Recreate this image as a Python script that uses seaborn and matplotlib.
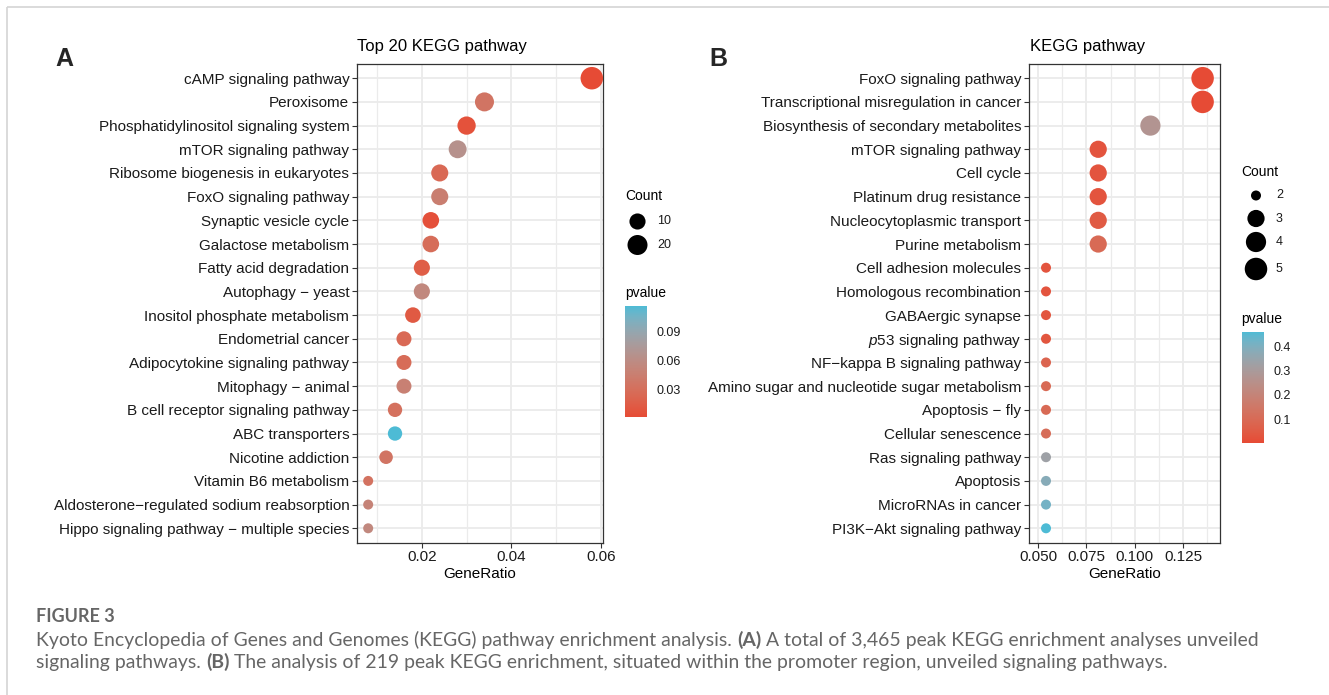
import numpy as np
import pandas as pd
import matplotlib
matplotlib.use("Agg")
import matplotlib.pyplot as plt
import seaborn as sns
from matplotlib.colors import ListedColormap, Normalize, FuncNorm
from matplotlib.cm import ScalarMappable

# ---------------- data ----------------
pathways_a = [
    "cAMP signaling pathway", "Peroxisome", "Phosphatidylinositol signaling system",
    "mTOR signaling pathway", "Ribosome biogenesis in eukaryotes", "FoxO signaling pathway",
    "Synaptic vesicle cycle", "Galactose metabolism", "Fatty acid degradation",
    "Autophagy \u2212 yeast", "Inositol phosphate metabolism", "Endometrial cancer",
    "Adipocytokine signaling pathway", "Mitophagy \u2212 animal", "B cell receptor signaling pathway",
    "ABC transporters", "Nicotine addiction", "Vitamin B6 metabolism",
    "Aldosterone\u2212regulated sodium reabsorption", "Hippo signaling pathway \u2212 multiple species",
]
gene_ratio_a = [0.058, 0.034, 0.030, 0.028, 0.024, 0.024, 0.022, 0.022, 0.020, 0.020,
                0.018, 0.016, 0.016, 0.016, 0.014, 0.014, 0.012, 0.008, 0.008, 0.008]
count_a = [29, 17, 15, 14, 12, 12, 11, 11, 10, 10, 9, 8, 8, 8, 7, 7, 6, 4, 4, 4]
pvalue_a = [0.0014, 0.035, 0.006, 0.065, 0.025, 0.045, 0.005, 0.028, 0.015, 0.055,
            0.012, 0.025, 0.027, 0.047, 0.032, 0.116, 0.035, 0.033, 0.050, 0.055]

pathways_b = [
    "FoxO signaling pathway", "Transcriptional misregulation in cancer",
    "Biosynthesis of secondary metabolites", "mTOR signaling pathway", "Cell cycle",
    "Platinum drug resistance", "Nucleocytoplasmic transport", "Purine metabolism",
    "Cell adhesion molecules", "Homologous recombination", "GABAergic synapse",
    "p53 signaling pathway", "NF\u2212kappa B signaling pathway",
    "Amino sugar and nucleotide sugar metabolism", "Apoptosis \u2212 fly", "Cellular senescence",
    "Ras signaling pathway", "Apoptosis", "MicroRNAs in cancer", "PI3K\u2212Akt signaling pathway",
]
gene_ratio_b = [0.1351, 0.1351, 0.1081, 0.0811, 0.0811, 0.0811, 0.0811, 0.0811,
                0.0541, 0.0541, 0.0541, 0.0541, 0.0541, 0.0541, 0.0541, 0.0541,
                0.0541, 0.0541, 0.0541, 0.0541]
count_b = [5, 5, 4, 3, 3, 3, 3, 3, 2, 2, 2, 2, 2, 2, 2, 2, 2, 2, 2, 2]
pvalue_b = [0.004, 0.005, 0.27, 0.03, 0.03, 0.03, 0.05, 0.10, 0.03, 0.03, 0.035, 0.035,
            0.08, 0.10, 0.10, 0.11, 0.33, 0.38, 0.415, 0.46]

title_a = "Top 20 KEGG pathway"
title_b = "KEGG pathway"
legend_counts_a = [10, 20]
legend_counts_b = [2, 3, 4, 5]
cbar_ticks_a = [0.03, 0.06, 0.09]
cbar_ticks_b = [0.1, 0.2, 0.3, 0.4]

caption_head = "FIGURE 3"
caption_line1 = [("Kyoto Encyclopedia of Genes and Genomes (KEGG) pathway enrichment analysis. ", False),
                 ("(A)", True),
                 (" A total of 3,465 peak KEGG enrichment analyses unveiled", False)]
caption_line2 = [("signaling pathways. ", False), ("(B)", True),
                 (" The analysis of 219 peak KEGG enrichment, situated within the promoter region, unveiled signaling pathways.", False)]

# ---------------- style ----------------
W, H, DPI = 1329, 695, 100
sns.set_theme(style="white")
plt.rcParams["font.family"] = ["Liberation Sans", "DejaVu Sans"]
plt.rcParams["mathtext.fontset"] = "custom"
plt.rcParams["mathtext.rm"] = "Liberation Sans"
plt.rcParams["mathtext.it"] = "Liberation Sans:italic"

TXT = "#1a1a1a"
GRID = "#EBEBEB"
BORDER = "#333333"

# Lab-interpolated gradient (like ggplot2 scale_colour_gradient)
_M = np.array([[0.4124, 0.3576, 0.1805], [0.2126, 0.7152, 0.0722], [0.0193, 0.1192, 0.9505]])
_WHITE = _M @ np.ones(3)
def _lin(c):
    c = np.asarray(c, float)
    return np.where(c <= 0.04045, c / 12.92, ((c + 0.055) / 1.055) ** 2.4)
def _gam(c):
    c = np.clip(c, 0, None)
    return np.where(c <= 0.0031308, 12.92 * c, 1.055 * np.power(c, 1 / 2.4) - 0.055)
def _f(t):
    return np.where(t > (6 / 29) ** 3, np.cbrt(t), t / (3 * (6 / 29) ** 2) + 4 / 29)
def _finv(t):
    return np.where(t > 6 / 29, t ** 3, 3 * (6 / 29) ** 2 * (t - 4 / 29))
def rgb2lab(rgb):
    fx, fy, fz = _f((_M @ _lin(rgb)) / _WHITE)
    return np.array([116 * fy - 16, 500 * (fx - fy), 200 * (fy - fz)])
def lab2rgb(lab):
    L, a, b = lab
    fy = (L + 16) / 116
    xyz = np.array([_finv(fy + a / 500), _finv(fy), _finv(fy - b / 200)]) * _WHITE
    return np.clip(_gam(np.linalg.solve(_M, xyz)), 0, 1)

low = np.array([0xE6, 0x4B, 0x35]) / 255
high = np.array([0x4D, 0xBB, 0xD5]) / 255
la, lb = rgb2lab(low), rgb2lab(high)
cmap = ListedColormap([lab2rgb(la + (lb - la) * t) for t in np.linspace(0, 1, 256)])

PX = 72 / DPI  # points per pixel
def make_size_norm(cmin, cmax, dmin=10.0, dmax=22.5):
    a = dmin * PX
    b = (dmax - dmin) * PX
    def fwd(x):
        t = np.clip((np.asarray(x, float) - cmin) / (cmax - cmin), 0, None)
        return (a + b * np.sqrt(t)) ** 2
    def inv(y):
        d = np.sqrt(np.clip(np.asarray(y, float), 0, None))
        t = np.clip((d - a) / b, 0, None) ** 2
        return cmin + t * (cmax - cmin)
    return FuncNorm((fwd, inv), vmin=cmin, vmax=cmax), (a * a, (a + b) ** 2), fwd

fig = plt.figure(figsize=(W / DPI, H / DPI), dpi=DPI)
fig.patch.set_facecolor("white")

def rect(l, t, r, b):
    return [l / W, 1 - b / H, (r - l) / W, (b - t) / H]

def panel(box, names, ratios, counts, pvals, xlim, major, minor, fmt):
    ax = fig.add_axes(box)
    df = pd.DataFrame({"Description": names, "GeneRatio": ratios,
                       "Count": counts, "pvalue": pvals})
    snorm, srange, fwd = make_size_norm(min(counts), max(counts))
    hnorm = Normalize(min(pvals), max(pvals))
    sns.scatterplot(data=df, x="GeneRatio", y="Description", hue="pvalue", palette=cmap,
                    hue_norm=hnorm, size="Count", sizes=srange, size_norm=snorm,
                    legend=False, ax=ax, linewidth=0, alpha=1, zorder=3)
    n = len(names)
    ax.set_ylim(n - 0.4, -0.6)
    ax.set_xlim(*xlim)
    ax.set_xticks(major)
    ax.set_xticklabels([fmt.format(v) for v in major])
    ax.set_xticks(minor, minor=True)
    ax.set_yticks(range(n))
    ax.grid(which="major", color=GRID, lw=1.3, zorder=0)
    ax.grid(which="minor", axis="x", color=GRID, lw=0.9, zorder=0)
    ax.set_axisbelow(True)
    for s in ax.spines.values():
        s.set_color(BORDER)
        s.set_linewidth(0.9)
    ax.tick_params(which="major", direction="out", length=3.5, width=0.8, color=BORDER,
                   labelsize=11, labelcolor=TXT, pad=2, bottom=True, left=True)
    ax.tick_params(which="minor", length=0, bottom=False)
    ax.set_ylabel("")
    ax.set_xlabel("GeneRatio", fontsize=11, color="black", labelpad=2)
    return ax, hnorm, fwd

axA, hnA, fwdA = panel(rect(357, 64, 603, 542.5), pathways_a, gene_ratio_a, count_a, pvalue_a,
                       (0.0055, 0.0605), [0.02, 0.04, 0.06], [0.01, 0.03, 0.05], "{:.2f}")
axB, hnB, fwdB = panel(rect(1029, 64, 1220, 542.5), pathways_b, gene_ratio_b, count_b, pvalue_b,
                       (0.0453, 0.1441), [0.05, 0.075, 0.10, 0.125], [0.0625, 0.0875, 0.1125, 0.1375],
                       "{:.3f}")
labs = [t.get_text() for t in axB.get_yticklabels()]
labs = [r"$\it{p53}$ signaling pathway" if l.startswith("p53") else l for l in labs]
axB.set_yticklabels(labs)

# overlay in pixel coordinates
ov = fig.add_axes([0, 0, 1, 1])
ov.set_xlim(0, W)
ov.set_ylim(H, 0)
ov.axis("off")

ov.text(357, 47, title_a, fontsize=12, color="black", va="center", ha="left")
ov.text(1030, 47, title_b, fontsize=12, color="black", va="center", ha="left")
ov.text(55, 59, "A", fontsize=18, fontweight="bold", va="center", ha="left")
ov.text(709, 59, "B", fontsize=18, fontweight="bold", va="center", ha="left")

# frame lines of the figure page
ov.plot([7, W], [7, 7], color="#d4d4d4", lw=1.2, solid_capstyle="butt")
ov.plot([7, 7], [7, H], color="#d4d4d4", lw=1.2, solid_capstyle="butt")

def size_legend(x0, ytitle, xs, ys, counts, fwd):
    ov.text(x0, ytitle, "Count", fontsize=10, color="black", va="center", ha="left")
    ov.scatter([xs] * len(counts), ys, s=[float(fwd(c)) for c in counts], color="black",
               linewidth=0)
    for y, c in zip(ys, counts):
        ov.text(xs + 20, y, str(c), fontsize=9, color=TXT, va="center", ha="left")

size_legend(625, 196, 637.5, [221.5, 245], legend_counts_a, fwdA)
size_legend(1241, 171.5, 1256, [195.5, 218.5, 242, 269], legend_counts_b, fwdB)

def colorbar(x0, ytitle, box, hnorm, ticks):
    ov.text(x0, ytitle, "pvalue", fontsize=10, color="black", va="center", ha="left")
    cax = fig.add_axes(box)
    cb = fig.colorbar(ScalarMappable(norm=hnorm, cmap=cmap), cax=cax)
    cb.outline.set_visible(False)
    cb.set_ticks(ticks)
    cb.set_ticklabels([("{:.2f}" if t < 0.1 and len(str(t)) > 3 else "{:g}").format(t) for t in ticks])
    cax.tick_params(axis="y", direction="in", length=4, width=0.8, color="white",
                    left=True, right=True, labelleft=False, labelright=True,
                    labelsize=9, labelcolor=TXT, pad=7)

colorbar(625, 293, rect(625, 306, 647, 417), hnA, cbar_ticks_a)
colorbar(1241, 319, rect(1241.5, 331.5, 1263.5, 442.5), hnB, cbar_ticks_b)

# caption
CAP = "#666666"
ov.text(36, 622, caption_head, fontsize=13, fontweight="bold", color=CAP, family="Lato",
        va="baseline", ha="left")
renderer = fig.canvas.get_renderer()

def seg_width(s, size, bold):
    t1 = ov.text(0, 0, s + "|", fontsize=size, family="Lato", fontweight="bold" if bold else "normal")
    t2 = ov.text(0, 0, "|", fontsize=size, family="Lato", fontweight="bold" if bold else "normal")
    w = t1.get_window_extent(renderer).width - t2.get_window_extent(renderer).width
    t1.remove(); t2.remove()
    return w

base = 12.0
w1 = sum(seg_width(s, base, b) for s, b in caption_line1)
cap_size = base * (1256 - 36) / w1

def rich_line(x, y, segs, size):
    for s, b in segs:
        ov.text(x, y, s, fontsize=size, family="Lato", fontweight="bold" if b else "normal",
                color=CAP, va="baseline", ha="left")
        x += seg_width(s, size, b)

rich_line(36, 646, caption_line1, cap_size)
rich_line(36, 668, caption_line2, cap_size)

fig.savefig("out.png", dpi=DPI, facecolor="white")
